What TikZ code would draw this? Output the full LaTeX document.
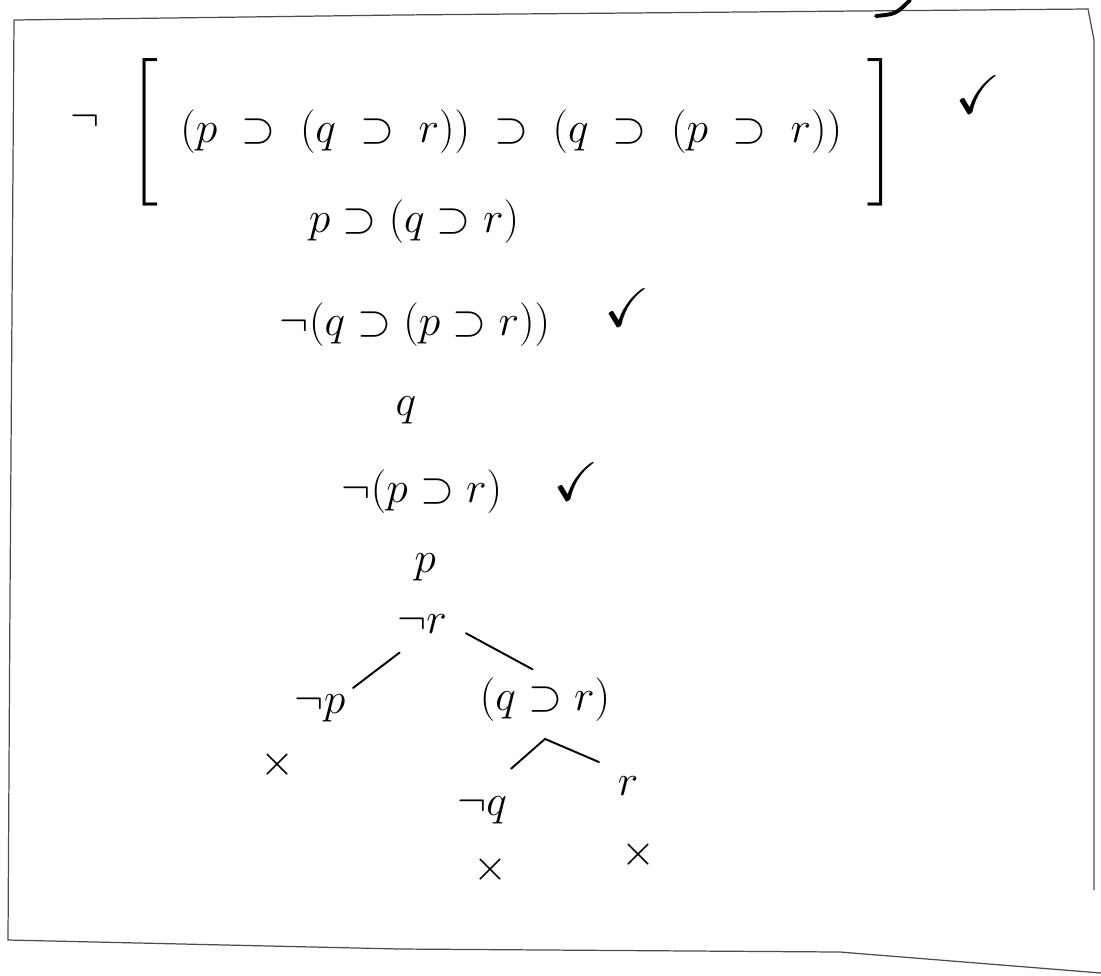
\documentclass[tikz,border=0pt]{standalone}
\usepackage{amsmath}
\usepackage{amssymb}
\usetikzlibrary{positioning}
\tikzset{
    formula/.style={inner sep=1pt, font=\fontsize{28}{40}\selectfont},
    tick/.style={inner sep=1pt, font=\fontsize{31}{36}\selectfont},
    closed/.style={inner sep=0pt, font=\fontsize{40}{44}\selectfont},
    branch/.style={line width=1.1pt, line cap=round},
    sheet/.style={line width=0.7pt, black!70},
    ink/.style={line width=2.2pt, line cap=round},
}
\begin{document}
\begin{tikzpicture}[x=0.02cm, y=-0.02cm]
    \useasboundingbox (0,0) rectangle (1101,975);
    % edge of the sheet
    \draw[sheet] (14,20) -- (400,15) -- (1088,9) -- (1094,40) -- (1094,890);
    \draw[sheet] (14,20) -- (10,600) -- (8,940) -- (400,949) -- (840,952) -- (1101,973);
    \draw[ink] (876,16) .. controls (896,14) .. (910,0);

    % the trunk
    \node[formula] (f0) at (483,132) {$\thickmuskip=10mu
        \raisebox{0.25cm}{$\neg$}\hspace{0.6cm}\Bigg[\hspace{0.45cm}(p\supset(q\supset r))\supset(q\supset(p\supset r))\hspace{0.5cm}\Bigg]$};
    \node[tick] (t0) at (978,95) {$\checkmark$};
    \node[formula] (f1) at (414,222) {$p\supset(q\supset r)$};
    \node[formula] (f2) at (415,325) {$\neg(q\supset(p\supset r))$};
    \node[tick] (t2) at (627,308) {$\checkmark$};
    \node[formula] (f3) at (406,410) {$q$};
    \node[formula] (f4) at (422,492) {$\neg(p\supset r)$};
    \node[tick] (t4) at (576,482) {$\checkmark$};
    \node[formula] (f5) at (425,567) {$p$};
    \node[formula] (f6) at (422,624) {$\neg r$};

    % first split
    \node[formula] (f7a) at (320,708) {$\neg p$};
    \node[formula] (f7b) at (545,700) {$(q\supset r)$};
    \node[closed] (x7a) at (277,765) {$\times$};
    \draw[branch, shorten <=16pt, shorten >=4pt] (f6.south) -- (f7a.north east);
    \draw[branch, shorten <=11pt, shorten >=8pt] (f6.east) -- (f7b.north);

    % second split
    \coordinate[below=3mm of f7b.south] (fork);
    \node[formula] (f8a) at (482,810) {$\neg q$};
    \node[formula] (f8b) at (628,786) {$r$};
    \node[closed] (x8a) at (490,870) {$\times$};
    \node[closed] (x8b) at (638,855) {$\times$};
    \draw[branch, shorten <=22pt, shorten >=18pt] (f8a.north) -- (fork) -- (f8b.north);
\end{tikzpicture}
\end{document}
